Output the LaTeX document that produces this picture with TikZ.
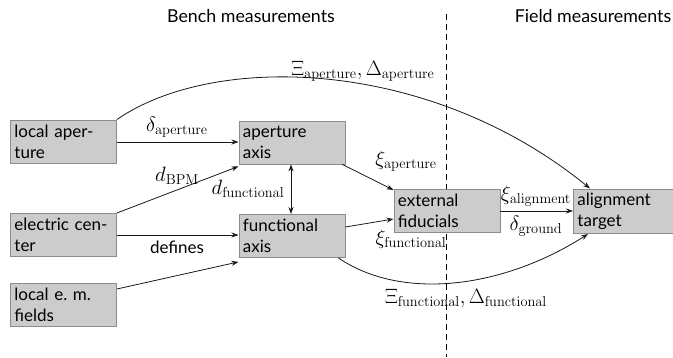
\documentclass[tikz,border=0pt]{standalone}
\usepackage[no-math]{fontspec}
\setmainfont{Lato}
\usetikzlibrary{arrows.meta}
\begin{document}
\begin{tikzpicture}[x=1pt,y=-1pt,
  box/.style={draw=black!45, line width=0.9pt, fill=black!20, anchor=north west,
    inner sep=4pt, text width=#1, align=left, minimum height=43pt,
    font=\fontsize{17}{21}\selectfont},
  box/.default=98pt,
  conn/.style={draw=black!90, line width=0.8pt, -{Stealth[length=7pt,width=5pt]}},
  lbl/.style={font=\fontsize{19.5}{22}\selectfont, inner sep=0pt},
  txt/.style={font=\fontsize{17}{20}\selectfont, inner sep=0pt},
  head/.style={font=\fontsize{17.8}{20}\selectfont, inner sep=0pt}]
\useasboundingbox (0,0) rectangle (673,357);
% headings and divider
\node[head] (bench) at (251,16) {Bench measurements};
\node[head] (field) at (593,16) {Field measurements};
\coordinate (dtop) at (446,14);
\coordinate (dbot) at (446,357);
\draw[line width=0.8pt, dash pattern=on 6pt off 4pt] (dtop) -- (dbot);
% boxes
\node[box] (la) at (10,119.5) {local aper-\\ture};
\node[box] (ec) at (10,213) {electric cen-\\ter};
\node[box] (em) at (10,283) {local e.\ m.\\fields};
\node[box] (aa) at (238.5,120.5) {aperture\\axis};
\node[box] (fa) at (238.5,214) {functional\\axis};
\node[box] (ef) at (393.5,189) {external\\fiducials};
\node[box=92pt] (at) at (573,188.5) {alignment\\target};
% connectors
\draw[conn] (la.east |- 0,142) -- (aa.west |- 0,142);
\draw[conn] (ec.north east) -- ([yshift=-2pt]aa.south west);
\draw[conn] (ec.east |- 0,235) -- (fa.west |- 0,235);
\draw[conn] ([yshift=-6pt]em.north east) -- ([yshift=-4pt]fa.south west);
\draw[conn, {Stealth[length=7pt,width=5pt]}-{Stealth[length=7pt,width=5pt]}] (aa.south -| 291,0) -- (fa.north -| 291,0);
\draw[conn] ([xshift=-3pt]aa.south east) -- ([yshift=-1pt]ef.north west);
\draw[conn] (fa.east |- 0,227) -- (ef.west |- 0,219);
\draw[conn] (ef.east |- 0,211) -- (at.west |- 0,211);
\draw[conn] (la.north east) .. controls (215,52) and (430,58) .. ([xshift=17pt]at.north west);
\draw[conn] ([xshift=-7pt]fa.south east) .. controls (400,300) and (500,290) .. ([xshift=15pt]at.south west);
% labels
\node[lbl] at (177,127) {$\delta_{\mathrm{aperture}}$};
\node[lbl] at (177,176) {$d_{\mathrm{BPM}}$};
\node[txt] at (177,247) {defines};
\node[lbl] at (248,189) {$d_{\mathrm{functional}}$};
\node[lbl] at (406,161) {$\xi_{\mathrm{aperture}}$};
\node[lbl] at (411,239) {$\xi_{\mathrm{functional}}$};
\node[lbl] at (536,196) {$\xi_{\mathrm{alignment}}$};
\node[lbl] at (536,226) {$\delta_{\mathrm{ground}}$};
\node[lbl] at (363,71) {$\Xi_{\mathrm{aperture}},\Delta_{\mathrm{aperture}}$};
\node[lbl] at (466,298) {$\Xi_{\mathrm{functional}},\Delta_{\mathrm{functional}}$};
\end{tikzpicture}
\end{document}
